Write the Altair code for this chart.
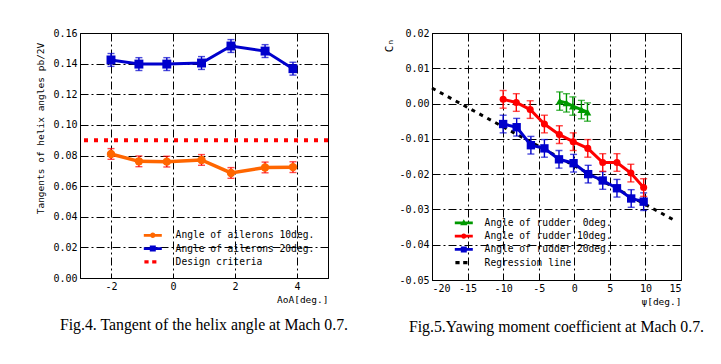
import altair as alt
import pandas as pd

# ---------------- Fig.4 data ----------------
aoa = [-2.0, -1.1, -0.2, 0.92, 1.87, 2.97, 3.87]
tan_10 = [0.0810, 0.0762, 0.0760, 0.0771, 0.0686, 0.0722, 0.0724]
err_10 = [0.0035, 0.0035, 0.0035, 0.0035, 0.0035, 0.0035, 0.0035]
tan_20 = [0.1424, 0.1397, 0.1397, 0.1404, 0.1515, 0.1482, 0.1367]
err_20 = [0.0042, 0.0042, 0.0042, 0.0042, 0.0042, 0.0042, 0.0042]
design_criteria = [0.09]
left_names = ["Angle of ailerons 10deg.", "Angle of ailerons 20deg.", "Design criteria"]
left_y_ticks = [0, 0.02, 0.04, 0.06, 0.08, 0.10, 0.12, 0.14, 0.16]
left_x_ticks = [-2, 0, 2, 4]

# ---------------- Fig.5 data ----------------
psi_0 = [-2.05, -1.1, -0.2, 1.0, 1.85]
cn_0 = [0.0007, 0.0002, -0.0007, -0.0017, -0.0024]
err_0 = [0.0026, 0.0026, 0.0026, 0.0026, 0.0026]
psi_10 = [-10.0, -8.15, -6.2, -4.2, -2.1, -0.15, 1.9, 4.0, 6.0, 7.95, 9.75]
cn_10 = [0.0012, 0.0003, -0.0017, -0.0058, -0.0088, -0.0108, -0.0127, -0.0167, -0.0167, -0.0197, -0.0238]
err_10r = [0.0025] * 11
psi_20 = [-10.0, -8.1, -6.1, -4.2, -2.15, -0.1, 1.95, 4.0, 6.0, 8.0, 9.75]
cn_20 = [-0.0058, -0.0067, -0.0118, -0.0127, -0.0158, -0.0169, -0.0200, -0.0218, -0.0240, -0.0269, -0.0278]
err_20r = [0.0025] * 11
psi_reg = [-20.0, 14.0]
cn_reg = [0.0044, -0.0330]
right_names = ["Angle of rudder\u00a0\u00a00deg.", "Angle of rudder 10deg.", "Angle of rudder 20deg.", "Regression line"]
right_y_ticks = [-0.05, -0.04, -0.03, -0.02, -0.01, 0, 0.01, 0.02]
right_x_ticks = [-20, -15, -10, -5, 0, 5, 10, 15]

MONO = "DejaVu Sans Mono"
ORANGE = "#ff6600"
BLUE = "#0000cc"
RED = "#ff0000"
GREEN = "#009900"
BLACK = "#000000"

# legend symbols: line + marker as custom paths
LINE = "M-3,-0.45H3V0.45H-3Z"
SQ = "M-1,-1H1V1H-1Z"
CIRC = "M0.9,0A0.9,0.9 0 1,1 -0.9,0A0.9,0.9 0 1,1 0.9,0Z"
TRI = "M0,-1.2L1.2,0.8H-1.2Z"
DOTS2 = "M-2.8,-0.55H-1.4V0.55H-2.8Z M-0.2,-0.55H1.2V0.55H-0.2Z"


def series_layers(xs, ys, errs, xenc, yenc, line_color, err_color, shape, size, sw):
    df = pd.DataFrame({"x": xs, "y": ys, "lo": [a - b for a, b in zip(ys, errs)],
                       "hi": [a + b for a, b in zip(ys, errs)]})
    base = alt.Chart(df)
    line = base.mark_line(color=line_color, strokeWidth=sw).encode(x=xenc, y=yenc)
    rule = base.mark_rule(color=err_color, strokeWidth=1.4).encode(x=xenc, y=alt.Y("lo:Q"), y2="hi:Q")
    tlo = base.mark_tick(color=err_color, orient="horizontal", size=7, thickness=1.4).encode(x=xenc, y=alt.Y("lo:Q"))
    thi = base.mark_tick(color=err_color, orient="horizontal", size=7, thickness=1.4).encode(x=xenc, y=alt.Y("hi:Q"))
    pts = base.mark_point(filled=True, opacity=1, color=line_color, shape=shape, size=size).encode(x=xenc, y=yenc)
    return [line, rule, tlo, thi, pts]


def legend_layer(names, colors, paths, lx, ly, loff):
    df = pd.DataFrame({"series": names})
    leg = alt.Legend(orient="none", legendX=lx, legendY=ly, title=None, labelFont=MONO,
                     labelFontSize=9.6, labelColor=BLACK, symbolSize=36, symbolOpacity=1,
                     symbolStrokeWidth=0, labelOffset=loff, rowPadding=2.3, padding=0)
    return alt.Chart(df).mark_point(filled=True, opacity=0, size=0).encode(
        color=alt.Color("series:N", scale=alt.Scale(domain=names, range=colors), legend=leg),
        shape=alt.Shape("series:N", scale=alt.Scale(domain=names, range=paths), legend=leg),
    )


minus_fix = "replace(format(datum.value, '{f}'), '\u2212', '-')"

# ---------------- left chart ----------------
xl = alt.X("x:Q", scale=alt.Scale(domain=[-3, 5], nice=False, zero=False),
           axis=alt.Axis(values=left_x_ticks, tickCount=20, labelExpr=minus_fix.format(f="d"),
                         title="AoA[deg.]", titleX=248, titleY=21, titleAlign="right",
                         titleBaseline="middle"))
yl = alt.Y("y:Q", scale=alt.Scale(domain=[0, 0.16], nice=False, zero=False),
           axis=alt.Axis(values=left_y_ticks, tickCount=20, format=".2f",
                         title="Tangents of helix angles pb/2V", titleX=-40, titleY=95,
                         titleAngle=270, titleAlign="center", titleBaseline="middle"))

crit = alt.Chart(pd.DataFrame({"y": design_criteria})).mark_rule(
    color=RED, strokeWidth=4, strokeDash=[4, 6]).encode(y=yl)

left_layers = [crit]
left_layers += series_layers(aoa, tan_10, err_10, xl, yl, ORANGE, RED, "circle", 70, 3.5)
left_layers += series_layers(aoa, tan_20, err_20, xl, yl, BLUE, BLUE, "square", 80, 3)
left_layers.append(legend_layer(left_names, [ORANGE, BLUE, RED],
                                [LINE + " " + CIRC, LINE + " " + SQ, DOTS2], 68, 197.5, 18))

left = alt.layer(*left_layers).properties(
    width=248, height=245,
    title=alt.TitleParams("Fig.4. Tangent of the helix angle at Mach 0.7.", orient="bottom",
                          anchor="middle", font="Liberation Serif", fontSize=15.8,
                          fontWeight="normal", color=BLACK, offset=14))

# ---------------- right chart ----------------
xr = alt.X("x:Q", scale=alt.Scale(domain=[-20, 15], nice=False, zero=False),
           axis=alt.Axis(values=right_x_ticks, tickCount=20, labelExpr=minus_fix.format(f="d"),
                         title="\u03c8[deg.]", titleX=249, titleY=21, titleAlign="right",
                         titleBaseline="middle"))
yr = alt.Y("y:Q", scale=alt.Scale(domain=[-0.05, 0.02], nice=False, zero=False),
           axis=alt.Axis(values=right_y_ticks, tickCount=20, labelExpr=minus_fix.format(f=".2f"),
                         title="C\u2099", titleX=-43, titleY=12, titleFontSize=11,
                         titleAngle=270, titleAlign="center", titleBaseline="middle"))

reg = alt.Chart(pd.DataFrame({"x": psi_reg, "y": cn_reg})).mark_line(
    color=BLACK, strokeWidth=3, strokeDash=[4, 5]).encode(x=xr, y=yr)

right_layers = [reg]
right_layers += series_layers(psi_20, cn_20, err_20r, xr, yr, BLUE, BLUE, "square", 70, 3)
right_layers += series_layers(psi_10, cn_10, err_10r, xr, yr, RED, RED, "circle", 50, 3)
right_layers += series_layers(psi_0, cn_0, err_0, xr, yr, GREEN, GREEN, "triangle-up", 60, 3)
right_layers.append(legend_layer(right_names, [GREEN, RED, BLUE, BLACK],
                                 [LINE + " " + TRI, LINE + " " + CIRC, LINE + " " + SQ, DOTS2],
                                 27, 185, 16))

right = alt.layer(*right_layers).properties(
    width=249, height=247,
    title=alt.TitleParams("Fig.5.Yawing moment coefficient at Mach 0.7.", orient="bottom",
                          anchor="middle", font="Liberation Serif", fontSize=15.8,
                          fontWeight="normal", color=BLACK, offset=14))

chart = alt.hconcat(left, right, spacing=33).resolve_scale(
    x="independent", y="independent", color="independent", shape="independent"
).properties(
    padding={"left": 26, "top": 19, "right": 5, "bottom": 5},
    background="white",
).configure_view(stroke=BLACK, strokeWidth=1).configure_axis(
    grid=True, gridColor=BLACK, gridDash=[8, 3, 2, 3], gridWidth=1, gridOpacity=1,
    domain=True, domainColor=BLACK, domainWidth=1, ticks=False,
    labelFont=MONO, labelFontSize=10, labelColor=BLACK, labelPadding=3, labelOverlap=False,
    titleFont=MONO, titleFontSize=9.5, titleFontWeight="normal", titleColor=BLACK,
)

chart.save("out.html", embed_options={"renderer": "svg", "actions": False})
